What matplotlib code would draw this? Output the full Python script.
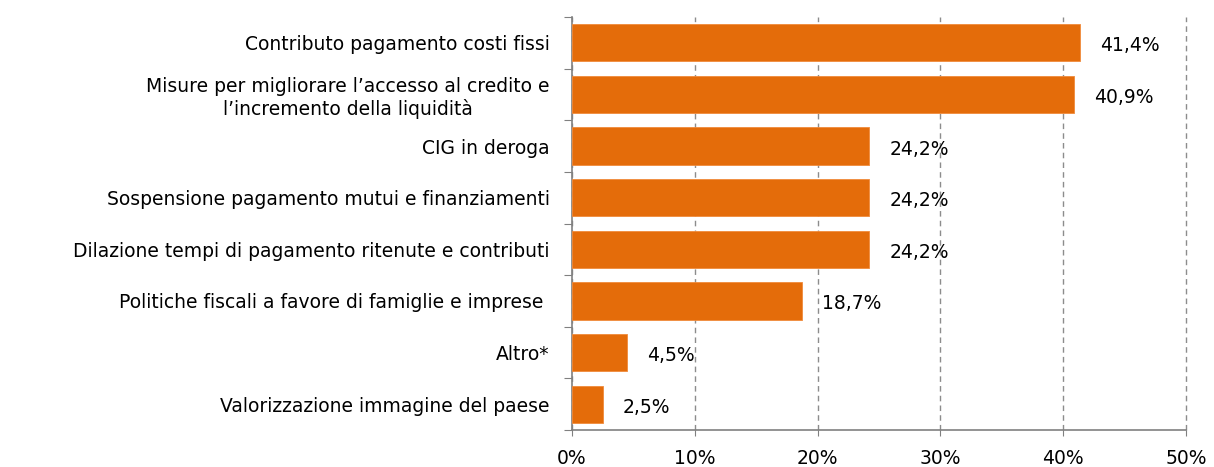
import matplotlib
matplotlib.use("Agg")
import matplotlib.pyplot as plt
from matplotlib.ticker import FuncFormatter

categories = [
    "Contributo pagamento costi fissi",
    "Misure per migliorare l’accesso al credito e\nl’incremento della liquidità",
    "CIG in deroga",
    "Sospensione pagamento mutui e finanziamenti",
    "Dilazione tempi di pagamento ritenute e contributi",
    "Politiche fiscali a favore di famiglie e imprese ",
    "Altro*",
    "Valorizzazione immagine del paese",
]
values = [41.4, 40.9, 24.2, 24.2, 24.2, 18.7, 4.5, 2.5]
xticks = [0, 10, 20, 30, 40, 50]

plt.rcParams['font.family'] = ['DejaVu Sans']
FS = 13.5
fig = plt.figure(figsize=(12.14, 4.67), dpi=100)
ax = fig.add_axes([572/1214, 1-430/467, (1186-572)/1214, (430-17)/467])

n = len(categories)
ypos = list(range(n))[::-1]
ax.barh(ypos, values, height=0.72, color='#E46C0A', edgecolor='#F08A3A', linewidth=0.6, zorder=3)
ax.set_ylim(-0.5, n-0.5)
ax.set_xlim(0, 50)

for y, v in zip(ypos, values):
    ax.annotate(f"{v:.1f}%".replace('.', ','), xy=(v, y), xytext=(20, -3),
                textcoords='offset pixels',
                ha='left', va='center', fontsize=FS, color='#000000')

ax.set_xticks(xticks)
ax.xaxis.set_major_formatter(FuncFormatter(lambda x, p: f"{int(x)}%"))
ax.tick_params(axis='x', direction='out', length=4, color='#808080', labelsize=FS, pad=10)
ax.grid(axis='x', linestyle=(0, (4, 3)), color='#8C8C8C', linewidth=1, zorder=0)
for gl in ax.get_xgridlines():
    gl.set_clip_on(False)

# y ticks at category boundaries, labels at centres
ax.set_yticks([i - 0.5 for i in range(n + 1)])
ax.set_yticklabels([])
ax.set_yticks(ypos, minor=True)
ax.set_yticklabels(categories, minor=True, fontsize=FS, multialignment='center')
ax.tick_params(axis='y', which='major', direction='out', length=6, color='#808080')
ax.tick_params(axis='y', which='minor', length=0, pad=16)

for s in ['top', 'right']:
    ax.spines[s].set_visible(False)
for s in ['left', 'bottom']:
    ax.spines[s].set_color('#808080')
    ax.spines[s].set_linewidth(1.2)

fig.savefig('out.png', dpi=100)
